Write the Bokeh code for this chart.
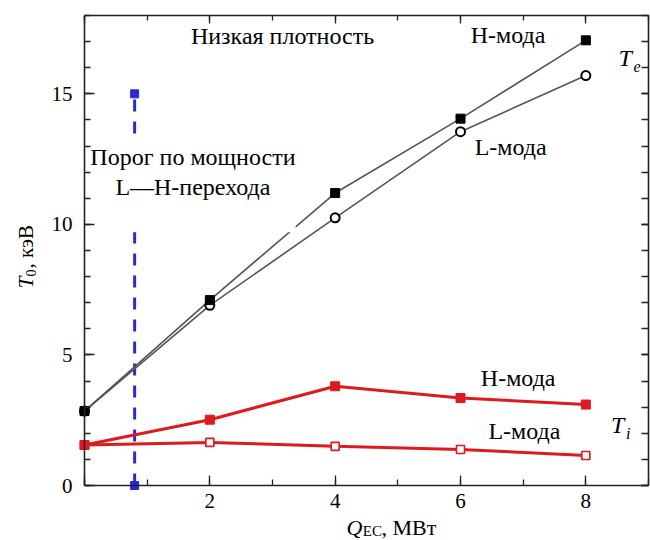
import math
from bokeh.plotting import figure
from bokeh.models import (LinearAxis, SingleIntervalTicker, Label,
                          BoxAnnotation, Range1d)
from bokeh.embed import file_html
from bokeh.resources import INLINE

# EC heating power, MW
q_ec = [0, 2, 4, 6, 8]
# Central electron temperature, keV
te_h_mode = [2.85, 7.1, 11.2, 14.05, 17.05]
te_l_mode = [2.85, 6.9, 10.25, 13.55, 15.7]
# Central ion temperature, keV
ti_h_mode = [1.55, 2.52, 3.8, 3.35, 3.1]
ti_l_mode = [1.55, 1.65, 1.5, 1.38, 1.15]
# L-H transition power threshold
threshold_q = [0.8, 0.8]
threshold_t = [0, 15]

x_ticks = [0, 2, 4, 6, 8]
y_ticks = [0, 5, 10, 15]
x_lim = (0, 9)
y_lim = (0, 18)

FONT = "Liberation Serif"
RED = "#dd1a1e"
BLUE = "#2a2ad0"
AXIS = "#222222"

# Page geometry: the axes box sits inside a canvas-filling frame so that
# the axis titles can be placed as labels in data space.
W, H = 650, 540
box_left, box_right, box_top, box_bottom = 84, 648, 15, 485
kx = (box_right - box_left) / (x_lim[1] - x_lim[0])
ky = (box_bottom - box_top) / (y_lim[1] - y_lim[0])
x_range = Range1d(x_lim[0] - box_left / kx, x_lim[1] + (W - box_right) / kx)
y_range = Range1d(y_lim[0] - (H - box_bottom) / ky, y_lim[1] + box_top / ky)

p = figure(width=W, height=H, min_border=0, output_backend="svg",
           toolbar_location=None, x_range=x_range, y_range=y_range,
           x_axis_type=None, y_axis_type=None)
p.grid.visible = False
p.outline_line_color = None
p.background_fill_color = "white"
p.border_fill_color = "white"


def make_axis(interval, minor, ticks, fixed, bounds, show_labels,
              major_in, minor_in):
    ax = LinearAxis(ticker=SingleIntervalTicker(interval=interval,
                                                num_minor_ticks=minor),
                    fixed_location=fixed, bounds=bounds)
    ax.axis_line_color = AXIS
    ax.axis_line_width = 1.6
    ax.major_tick_in = major_in
    ax.major_tick_out = 0
    ax.minor_tick_in = minor_in
    ax.minor_tick_out = 0
    ax.major_tick_line_color = AXIS
    ax.minor_tick_line_color = AXIS
    ax.major_tick_line_width = 1.3
    ax.minor_tick_line_width = 1.3
    ax.major_label_text_font = FONT
    ax.major_label_text_font_size = "21px"
    ax.major_label_text_color = "black"
    if not show_labels:
        ax.major_label_overrides = {t: "" for t in ticks}
        ax.major_label_standoff = 0
    return ax


xb = make_axis(2, 2, x_ticks, y_lim[0], x_lim, True, 10, 6)
xb.major_label_standoff = 8
xb.major_label_overrides = {x_ticks[0]: ""}
yl = make_axis(5, 5, y_ticks, x_lim[0], y_lim, True, 10, 6)
yl.major_label_standoff = 12
xt = make_axis(2, 2, x_ticks, y_lim[1], x_lim, False, 8, 5)
yr = make_axis(5, 5, y_ticks, x_lim[1], y_lim, False, 7, 7)
p.add_layout(xb, "below")
p.add_layout(yl, "left")
p.add_layout(xt, "above")
p.add_layout(yr, "right")

# Threshold line
p.line(threshold_q, threshold_t, line_color=BLUE, line_width=3,
       line_dash="12 10")
p.scatter(threshold_q, threshold_t, marker="square", size=8,
          fill_color=BLUE, line_color=BLUE)

# Electron temperature
p.line(q_ec, te_h_mode, line_color="#555555", line_width=1.6)
p.line(q_ec, te_l_mode, line_color="#555555", line_width=1.6)
p.scatter(q_ec, te_l_mode, marker="circle", size=9, fill_color="white",
          line_color="black", line_width=2)
p.scatter(q_ec, te_h_mode, marker="square", size=9,
          fill_color="black", line_color="black")

# Ion temperature
p.line(q_ec, ti_h_mode, line_color=RED, line_width=3)
p.line(q_ec, ti_l_mode, line_color=RED, line_width=3)
p.scatter(q_ec, ti_l_mode, marker="square", size=8, fill_color="white",
          line_color=RED, line_width=1.6)
p.scatter(q_ec, ti_h_mode, marker="square", size=9,
          fill_color=RED, line_color=RED)

# White backing behind the threshold caption
p.add_layout(BoxAnnotation(left=0.2, right=3.37, bottom=9.7, top=13.4,
                           fill_color="white", fill_alpha=1.0,
                           line_alpha=0, level="annotation"))


def text(x, y, s, size=24, style="normal", align="center", angle=0.0):
    p.add_layout(Label(x=x, y=y, text=s, text_font=FONT,
                       text_font_size=f"{size}px", text_font_style=style,
                       text_align=align, text_baseline="middle",
                       text_color="black", angle=angle))


text(3.16, 17.2, "Низкая плотность")
text(6.76, 17.24, "H-мода")
text(6.8, 12.95, "L-мода")
text(1.73, 12.57, "Порог по мощности")
text(1.73, 11.42, "L—H-перехода")
text(6.92, 4.1, "H-мода")
text(7.02, 2.1, "L-мода")

# T_e and T_i tags
text(8.52, 16.36, "T", style="italic", align="left")
text(8.76, 16.05, "e", size=16, style="italic", align="left")
text(8.4, 2.3, "T", style="italic", align="left")
text(8.64, 1.99, "i", size=16, style="italic", align="left")

# Axis titles
text(4.18, -1.61, "Q", size=22, style="italic", align="left")
text(4.44, -1.76, "EC", size=15, align="left")
text(4.74, -1.61, ", МВт", size=22, align="left")

a = math.pi / 2
text(-0.94, 7.55, "T", size=21, style="italic", align="left", angle=a)
text(-0.846, 8.0, "0", size=14, align="left", angle=a)
text(-0.94, 8.31, ", кэВ", size=21, align="left", angle=a)

open("out.html", "w").write(file_html(p, INLINE))
